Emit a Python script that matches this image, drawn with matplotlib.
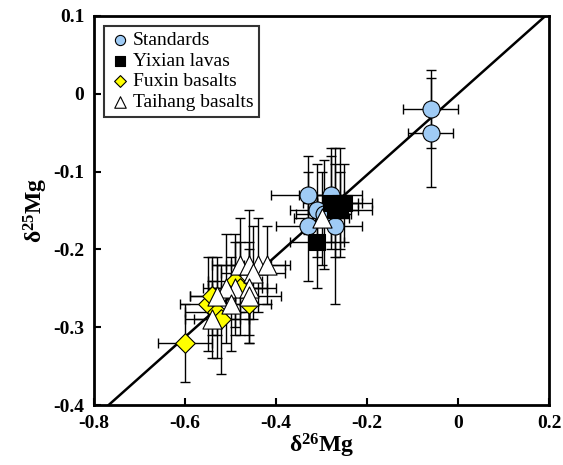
import matplotlib
matplotlib.use("Agg")
import matplotlib.pyplot as plt
import numpy as np

plt.rcParams['font.family'] = ['Liberation Serif', 'DejaVu Serif']
plt.rcParams['mathtext.fontset'] = 'custom'
plt.rcParams['mathtext.rm'] = 'Liberation Serif:bold'
plt.rcParams['mathtext.bf'] = 'Liberation Serif:bold'
plt.rcParams['mathtext.it'] = 'Liberation Serif:bold'

# Standards
std_x = [-0.06, -0.06, -0.33, -0.28, -0.31, -0.295, -0.33, -0.27]
std_y = [-0.02, -0.05, -0.13, -0.13, -0.15, -0.155, -0.17, -0.17]
std_xe = [0.06, 0.05, 0.08, 0.07, 0.06, 0.06, 0.07, 0.06]
std_ye = [0.05, 0.07, 0.05, 0.06, 0.06, 0.07, 0.07, 0.10]

# Yixian lavas
yx_x = [-0.28, -0.26, -0.25, -0.27, -0.26, -0.31]
yx_y = [-0.14, -0.14, -0.14, -0.15, -0.15, -0.19]
yx_xe = [0.06, 0.05, 0.06, 0.05, 0.07, 0.06]
yx_ye = [0.06, 0.07, 0.05, 0.06, 0.05, 0.06]

# Fuxin basalts
fx_x = [-0.60, -0.55, -0.54, -0.53, -0.52, -0.49, -0.46, -0.48]
fx_y = [-0.32, -0.27, -0.26, -0.28, -0.29, -0.24, -0.27, -0.25]
fx_xe = [0.06, 0.06, 0.05, 0.07, 0.06, 0.06, 0.05, 0.06]
fx_ye = [0.05, 0.06, 0.05, 0.06, 0.07, 0.06, 0.05, 0.06]

# Taihang basalts
th_x = [-0.48, -0.46, -0.44, -0.42, -0.45, -0.49, -0.51, -0.46, -0.53, -0.50, -0.46, -0.54, -0.30]
th_y = [-0.22, -0.22, -0.22, -0.22, -0.23, -0.25, -0.25, -0.25, -0.26, -0.27, -0.26, -0.29, -0.16]
th_xe = [0.06, 0.05, 0.06, 0.05, 0.07, 0.06, 0.05, 0.06, 0.06, 0.05, 0.07, 0.06, 0.06]
th_ye = [0.06, 0.07, 0.06, 0.05, 0.06, 0.06, 0.07, 0.06, 0.05, 0.06, 0.06, 0.05, 0.06]

slope = 0.521

fig = plt.figure(figsize=(5.63, 4.65), dpi=100)
ax = fig.add_axes([94/563, 1-405/465, (549-94)/563, (405-16)/465])

xl = np.array([-0.8, 0.2])
ax.plot(xl, slope * xl, color='black', lw=1.8, zorder=1)

eb = dict(fmt='none', ecolor='black', elinewidth=1, capsize=3.5, capthick=1, zorder=2)
ax.errorbar(std_x, std_y, xerr=std_xe, yerr=std_ye, **eb)
ax.errorbar(yx_x, yx_y, xerr=yx_xe, yerr=yx_ye, **eb)
ax.errorbar(fx_x, fx_y, xerr=fx_xe, yerr=fx_ye, **eb)
ax.errorbar(th_x, th_y, xerr=th_xe, yerr=th_ye, **eb)

ax.scatter(std_x, std_y, marker='o', s=150, facecolor='#9fcbf5', edgecolor='black', lw=0.8, zorder=3, label='Standards')
ax.scatter(yx_x, yx_y, marker='s', s=120, facecolor='black', edgecolor='black', lw=0.8, zorder=3, label='Yixian lavas')
ax.scatter(fx_x, fx_y, marker='D', s=100, facecolor='#ffff00', edgecolor='black', lw=0.8, zorder=3, label='Fuxin basalts')
ax.scatter(th_x, th_y, marker='^', s=190, facecolor='white', edgecolor='black', lw=0.8, zorder=4, label='Taihang basalts')

ax.set_xlim(-0.8, 0.2)
ax.set_ylim(-0.4, 0.1)
ax.set_xticks([-0.8, -0.6, -0.4, -0.2, 0, 0.2])
ax.set_xticklabels(['-0.8', '-0.6', '-0.4', '-0.2', '0', '0.2'])
ax.set_yticks([-0.4, -0.3, -0.2, -0.1, 0, 0.1])
ax.set_yticklabels(['-0.4', '-0.3', '-0.2', '-0.1', '0', '0.1'])
ax.tick_params(direction='in', length=5, width=1.5, labelsize=14, pad=7)
for lab in ax.get_xticklabels() + ax.get_yticklabels():
    lab.set_fontweight('bold')
for sp in ax.spines.values():
    sp.set_linewidth(2)

ax.set_xlabel('δ$^{26}$Mg', fontsize=17, fontweight='bold', labelpad=0)
ax.set_ylabel('δ$^{25}$Mg', fontsize=17, fontweight='bold', labelpad=2)

leg = ax.legend(loc='upper left', fontsize=14, frameon=True, fancybox=False,
                edgecolor='black', handletextpad=0.1, borderpad=0.3, labelspacing=0.15,
                handlelength=1.1, markerscale=0.6, borderaxespad=0.5)
leg.get_frame().set_linewidth(1.5)

fig.savefig('out.png', dpi=100)
